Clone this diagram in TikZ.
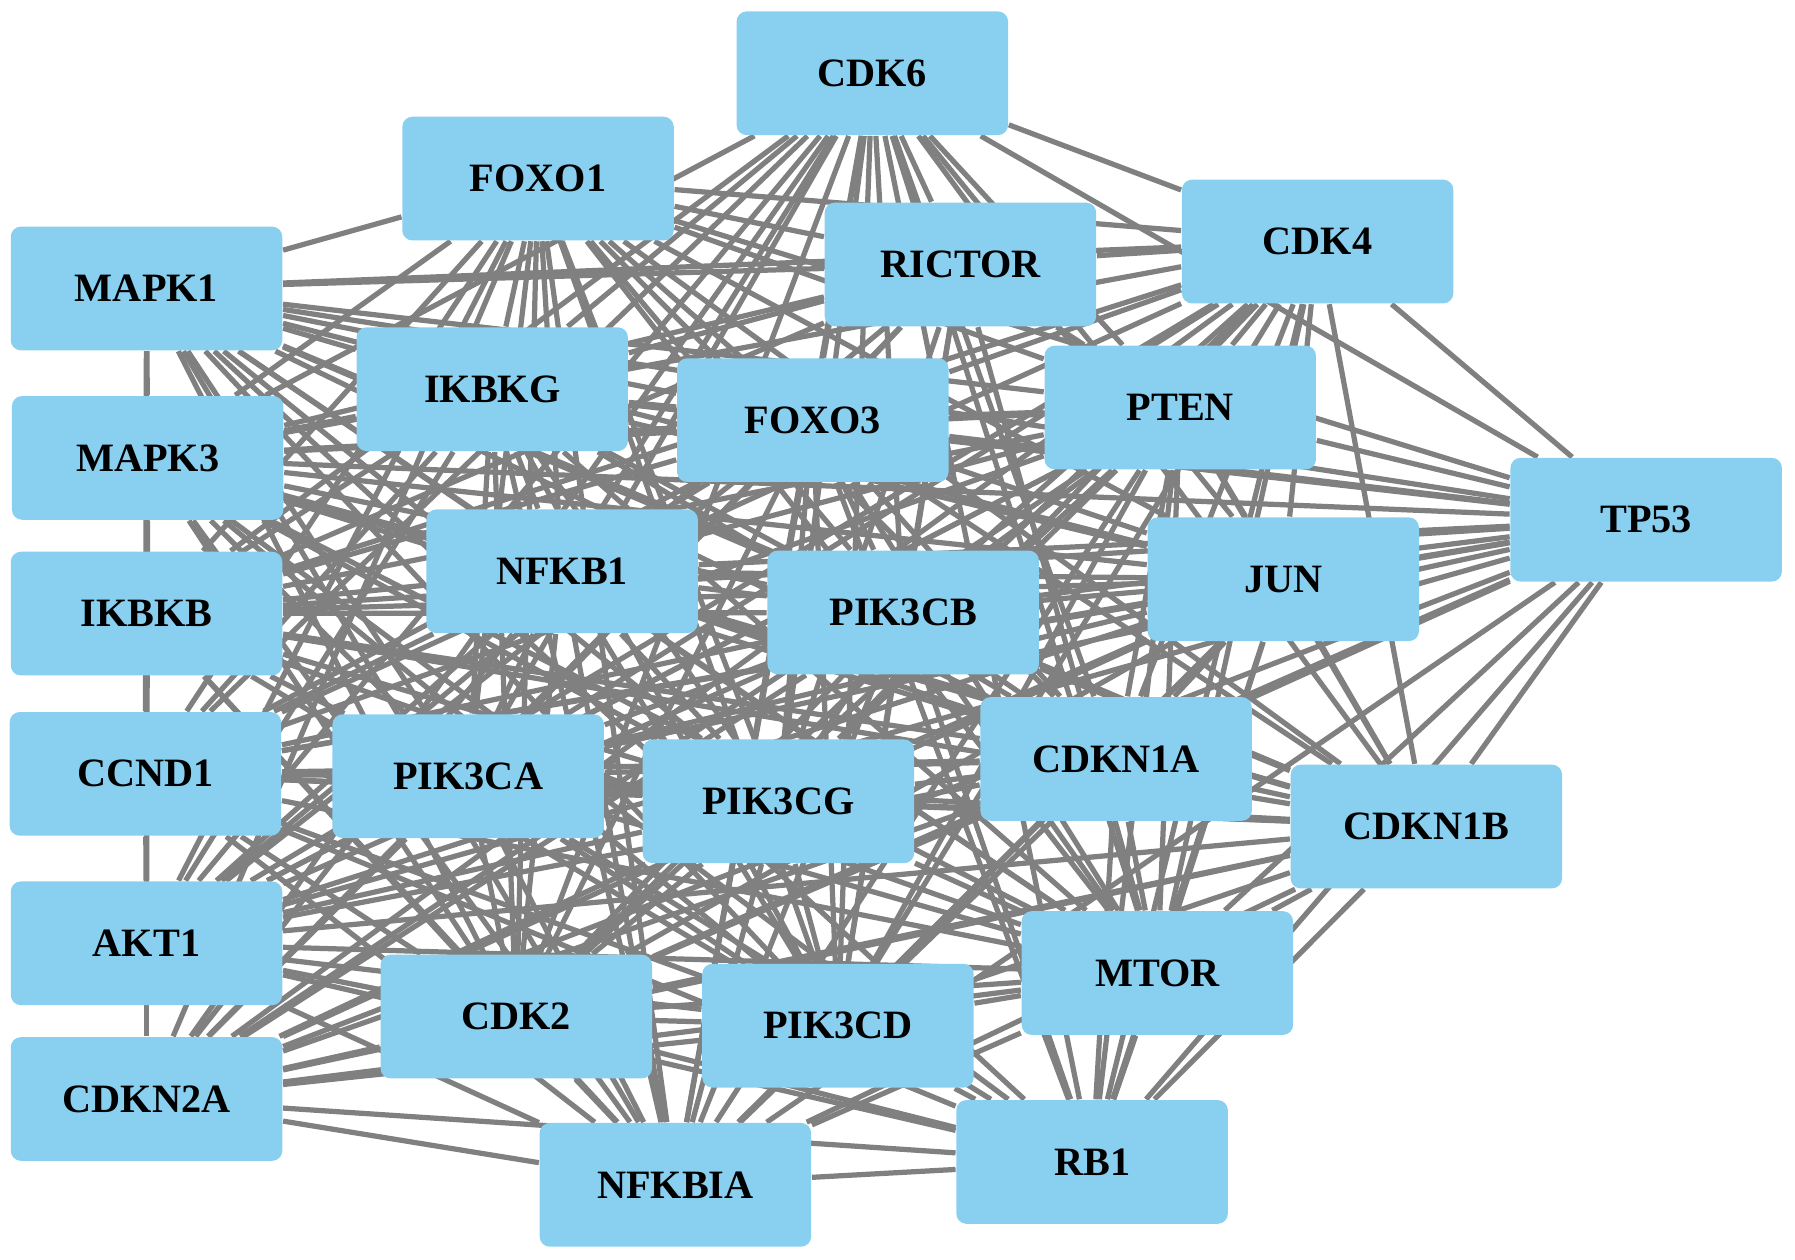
\documentclass[tikz,border=0pt]{standalone}
\usepackage{fontspec}
\setmainfont{Liberation Serif}
\usetikzlibrary{backgrounds}
\definecolor{nodeblue}{RGB}{137,207,240}
\definecolor{edgegray}{RGB}{128,128,128}
\begin{document}
\begin{tikzpicture}[x=0.01cm,y=-0.01cm,
  gene/.style={rectangle, rounded corners=2.5pt, fill=nodeblue, minimum width=2.37cm, minimum height=1.08cm, inner sep=0pt, font=\fontsize{10}{12}\selectfont\bfseries, text=black},
  edge/.style={draw=edgegray, line width=1.3pt}]
\useasboundingbox (0,0) rectangle (1568,1100.6);
\node[gene] (cdk6)   at (762,64)   {CDK6};
\node[gene] (foxo1)  at (470,156)  {FOXO1};
\node[gene] (mapk1)  at (128,252)  {MAPK1};
\node[gene] (rictor) at (839,231)  {RICTOR};
\node[gene] (cdk4)   at (1151,211) {CDK4};
\node[gene] (ikbkg)  at (430,340)  {IKBKG};
\node[gene] (foxo3)  at (710,367)  {FOXO3};
\node[gene] (pten)   at (1031,356) {PTEN};
\node[gene] (mapk3)  at (129,400)  {MAPK3};
\node[gene] (tp53)   at (1438,454) {TP53};
\node[gene] (nfkb1)  at (491,499)  {NFKB1};
\node[gene] (jun)    at (1121,506) {JUN};
\node[gene] (pik3cb) at (789,535)  {PIK3CB};
\node[gene] (ikbkb)  at (128,536)  {IKBKB};
\node[gene] (cdkn1a) at (975,663)  {CDKN1A};
\node[gene] (ccnd1)  at (127,676)  {CCND1};
\node[gene] (pik3ca) at (409,678)  {PIK3CA};
\node[gene] (pik3cg) at (680,700)  {PIK3CG};
\node[gene] (cdkn1b) at (1246,722) {CDKN1B};
\node[gene] (akt1)   at (128,824)  {AKT1};
\node[gene] (mtor)   at (1011,850) {MTOR};
\node[gene] (cdk2)   at (451,888)  {CDK2};
\node[gene] (pik3cd) at (732,896)  {PIK3CD};
\node[gene] (cdkn2a) at (128,960)  {CDKN2A};
\node[gene] (rb1)    at (954,1015) {RB1};
\node[gene] (nfkbia) at (590,1035) {NFKBIA};
\begin{scope}[on background layer]
\foreach \a/\nbrs in {
 akt1/{tp53,mapk1,mapk3,jun,pten,mtor,ccnd1,nfkb1,foxo3,foxo1,cdkn1a,pik3ca,ikbkb,nfkbia,cdk2,cdkn1b,rb1,cdk4,cdk6,cdkn2a,pik3cb,pik3cd,pik3cg,rictor,ikbkg},
 tp53/{mapk1,mapk3,jun,pten,mtor,ccnd1,nfkb1,foxo3,foxo1,cdkn1a,pik3ca,ikbkb,nfkbia,cdk2,cdkn1b,rb1,cdk4,cdk6,cdkn2a,pik3cb,ikbkg},
 mapk1/{mapk3,jun,pten,mtor,ccnd1,nfkb1,foxo3,foxo1,cdkn1a,pik3ca,ikbkb,nfkbia,cdk2,cdkn1b,rb1,cdk4,cdkn2a,pik3cb,pik3cd,pik3cg,rictor,ikbkg},
 mapk3/{jun,pten,mtor,ccnd1,nfkb1,foxo3,foxo1,cdkn1a,pik3ca,ikbkb,nfkbia,cdk2,cdkn1b,rb1,cdk4,cdk6,pik3cb,pik3cd,pik3cg,rictor,ikbkg},
 jun/{pten,mtor,ccnd1,nfkb1,foxo3,foxo1,cdkn1a,pik3ca,ikbkb,nfkbia,cdk2,cdkn1b,rb1,cdk4,cdk6,cdkn2a,pik3cb,pik3cd,pik3cg,ikbkg},
 pten/{mtor,ccnd1,nfkb1,foxo3,foxo1,cdkn1a,pik3ca,ikbkb,nfkbia,cdk2,cdkn1b,rb1,cdk4,cdk6,cdkn2a,pik3cb,pik3cd,pik3cg,rictor},
 mtor/{ccnd1,nfkb1,foxo3,foxo1,cdkn1a,pik3ca,ikbkb,nfkbia,cdk2,cdkn1b,rb1,cdk4,cdk6,cdkn2a,pik3cb,pik3cd,pik3cg,rictor,ikbkg},
 ccnd1/{nfkb1,foxo3,foxo1,cdkn1a,pik3ca,ikbkb,nfkbia,cdk2,cdkn1b,rb1,cdk4,cdk6,pik3cb,pik3cd,pik3cg,ikbkg},
 nfkb1/{foxo3,foxo1,cdkn1a,pik3ca,ikbkb,nfkbia,cdk2,cdkn1b,cdk6,cdkn2a,pik3cb,pik3cd,pik3cg,ikbkg},
 foxo3/{foxo1,cdkn1a,pik3ca,ikbkb,nfkbia,cdk2,cdkn1b,rb1,cdk4,cdk6,cdkn2a,pik3cb,pik3cd,pik3cg,rictor,ikbkg},
 foxo1/{cdkn1a,pik3ca,ikbkb,nfkbia,cdk2,cdkn1b,cdk4,cdkn2a,pik3cb,pik3cd,pik3cg,rictor,ikbkg},
 cdkn1a/{pik3ca,ikbkb,nfkbia,cdk2,cdkn1b,rb1,cdk4,cdk6,cdkn2a,pik3cb,pik3cg,ikbkg},
 pik3ca/{ikbkb,nfkbia,cdk2,cdkn1b,rb1,cdk4,cdk6,cdkn2a,pik3cb,pik3cd,pik3cg,rictor,ikbkg},
 ikbkb/{nfkbia,cdk2,cdkn1b,cdk4,cdk6,cdkn2a,pik3cb,pik3cd,pik3cg,rictor,ikbkg},
 nfkbia/{cdk2,cdkn1b,rb1,cdk6,cdkn2a,pik3cb,pik3cd,pik3cg,ikbkg},
 cdk2/{cdkn1b,rb1,cdk4,cdk6,cdkn2a,pik3cb,pik3cd,pik3cg,ikbkg},
 cdkn1b/{rb1,cdk4,cdk6,cdkn2a,pik3cb,pik3cd,pik3cg},
 rb1/{cdk4,cdk6,cdkn2a,pik3cb,pik3cd},
 cdk4/{cdk6,cdkn2a,pik3cb,pik3cd,pik3cg,rictor},
 cdk6/{cdkn2a,pik3cb,pik3cd,pik3cg,rictor,ikbkg},
 cdkn2a/{pik3cb,pik3cd,pik3cg},
 pik3cb/{pik3cd,pik3cg,rictor,ikbkg},
 pik3cd/{pik3cg,rictor,ikbkg},
 pik3cg/{rictor,ikbkg},
 rictor/{ikbkg}}
 {\foreach \b in \nbrs {\draw[edge] (\a) -- (\b);}}
\end{scope}
\end{tikzpicture}
\end{document}
